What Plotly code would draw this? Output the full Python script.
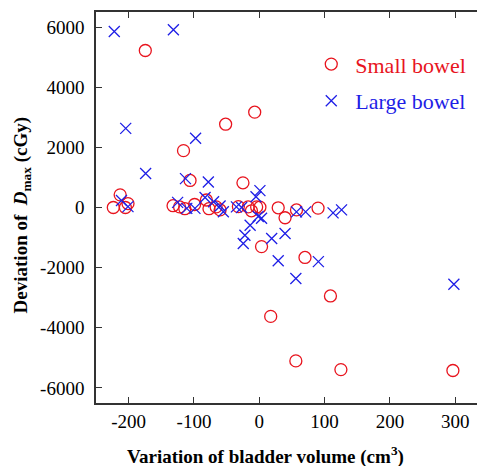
import plotly.graph_objects as go

# Small bowel (circles): variation of bladder volume (cm3), deviation of Dmax (cGy)
small_x = [-223.5, -213, -205, -201, -174.5, -132, -122, -114, -99, -116, -106, -81, -77, -66, -60,
           -51.5, -32, -25, -17, -12, -7, -4, 1, 3.5, 17.5, 29, 39.5, 56, 57, 70, 90, 109, 125, 296.5]
small_y = [0, 420, 0, 130, 5220, 60, 20, -40, 100, 1890, 900, 250, -40, 20, -80,
           2770, 30, 820, 20, -110, 3170, 20, 10, -1300, -3620, -10, -340, -5100, -80, -1660, -20, -2940, -5390, -5420]

# Large bowel (crosses)
large_x = [-222, -131.5, -204.5, -174, -97.5, -113, -78, -211, -201, -125, -111, -98.5, -83, -70, -60,
           -55, -35, -27, 1, -5, -1.5, 3.5, -14, -22, -24.5, 19, 39.5, 29, 90.5, 56, 298, 57, 71, 113, 126]
large_y = [5850, 5910, 2630, 1130, 2300, 960, 850, 230, 30, 170, -30, -30, 330, 190, 50,
           -140, 20, 0, 560, 360, -300, -360, -590, -920, -1195, -1030, -865, -1770, -1800, -2360, -2550, -145, -145, -180, -80]

x_ticks = [-200, -100, 0, 100, 200, 300]
x_tick_text = ["-200", "-100", "0", "100", "200", "300"]
y_ticks = [-6000, -4000, -2000, 0, 2000, 4000, 6000]
y_tick_text = ["-6000", "-4000", "-2000", "0", "2000", "4000", "6000"]

RED = "#e8141e"
BLUE = "#1e1ee6"
FONT = "Times New Roman, Liberation Serif, serif"

fig = go.Figure()
fig.add_trace(go.Scatter(
    x=small_x, y=small_y, mode="markers",
    name='<span style="color:%s">Small bowel</span>' % RED,
    legendgroup="a",
    marker=dict(symbol="circle-open", size=12, color=RED, line=dict(width=1.3, color=RED)),
))
fig.add_trace(go.Scatter(
    x=large_x, y=large_y, mode="markers",
    name='<span style="color:%s">Large bowel</span>' % BLUE,
    legendgroup="b",
    marker=dict(symbol="x-thin-open", size=11, color=BLUE, line=dict(width=1.3, color=BLUE)),
))
# invisible trace to carry the top axis
fig.add_trace(go.Scatter(x=[small_x[0]], y=[small_y[0]], xaxis="x2", mode="markers",
                         marker=dict(opacity=0), showlegend=False, hoverinfo="skip"))

axis_common = dict(showline=True, linecolor="#333", linewidth=1.5, ticks="inside",
                   ticklen=6, tickwidth=1.3, tickcolor="#333", showgrid=False, zeroline=False,
                   tickfont=dict(family=FONT, size=19, color="black"))

fig.update_layout(
    width=477, height=466,
    margin=dict(l=96, r=0, t=12, b=63),
    plot_bgcolor="white", paper_bgcolor="white",
    font=dict(family=FONT),
    showlegend=True,
    legend=dict(x=0.5545, y=0.92, xanchor="left", yanchor="top", itemwidth=38,
                font=dict(family=FONT, size=22), traceorder="grouped", tracegroupgap=5,
                bgcolor="rgba(0,0,0,0)"),
    xaxis=dict(range=[-250, 333.4], tickvals=x_ticks, ticktext=x_tick_text,
               ticklabelstandoff=0, **axis_common),
    xaxis2=dict(range=[-250, 333.4], overlaying="x", side="top", tickvals=x_ticks,
                showticklabels=False, matches="x", **axis_common),
    yaxis=dict(range=[-6500, 6500], tickvals=y_ticks, ticktext=y_tick_text,
               ticklabelstandoff=6, **axis_common),
    annotations=[
        dict(text="<b>Variation of bladder volume (cm<sup>3</sup>)</b>", xref="paper", yref="paper",
             x=0.4436, y=-0.1355, xanchor="center", yanchor="middle", showarrow=False,
             font=dict(family=FONT, size=19, color="black")),
        dict(text="<b>Deviation of  <i>D</i><sub>max</sub> (cGy)</b>", xref="paper", yref="paper",
             x=-0.194, y=0.48, xanchor="center", yanchor="middle", textangle=-90, showarrow=False,
             font=dict(family=FONT, size=19, color="black")),
    ],
)

fig.write_html("out.html", config={"displayModeBar": False},
               post_script="document.body.style.margin='0';")
